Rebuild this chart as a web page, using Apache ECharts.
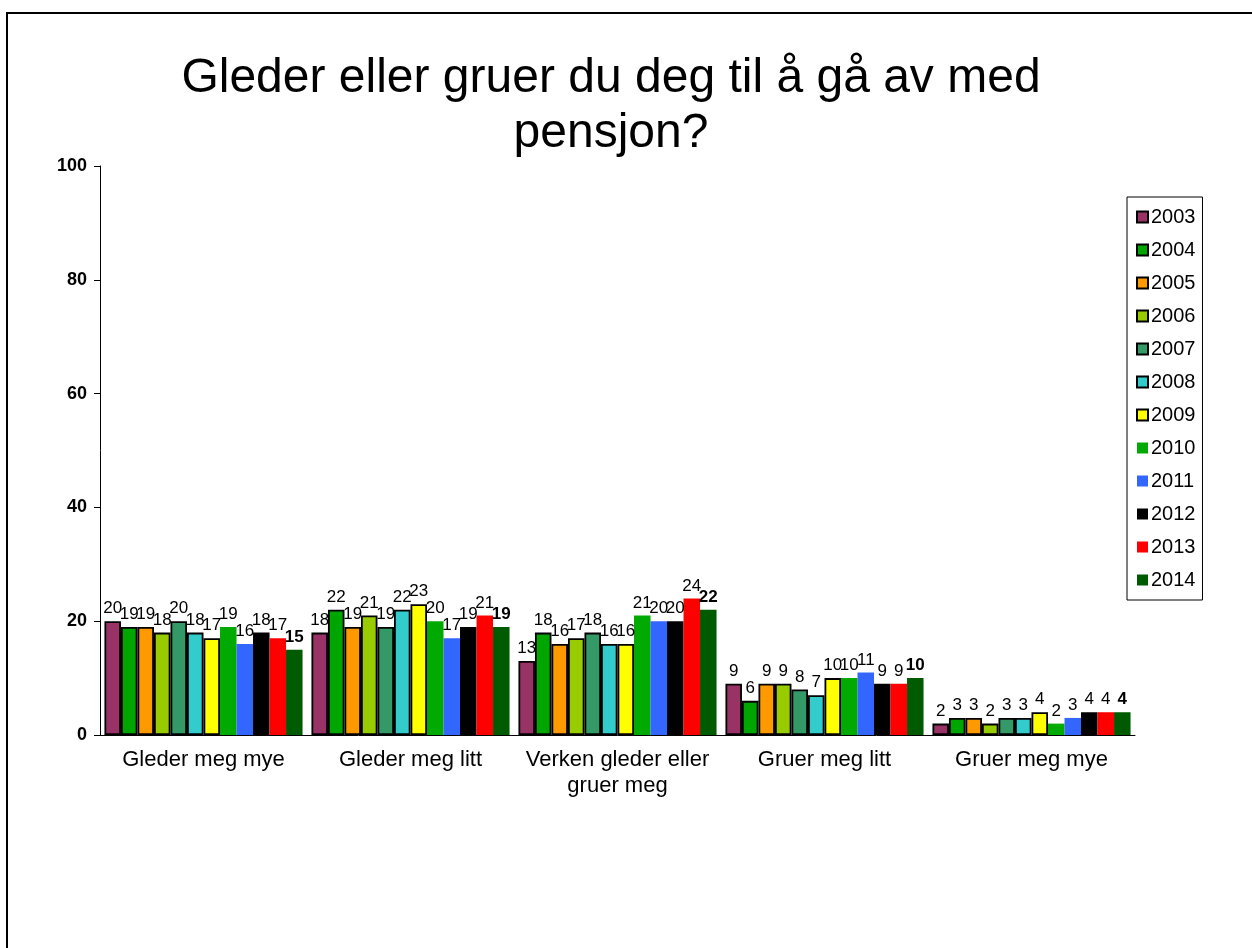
<!DOCTYPE html>
<html>
<head>
<meta charset="utf-8">
<script src="https://cdn.jsdelivr.net/npm/echarts@6/dist/echarts.min.js"></script>
<style>
html,body{margin:0;padding:0;background:#fff;}
#chart{width:1252px;height:948px;}
</style>
</head>
<body>
<div id="chart"></div>
<script>
const categories = ['Gleder meg mye', 'Gleder meg litt', 'Verken gleder eller\ngruer meg', 'Gruer meg litt', 'Gruer meg mye'];
const years = ['2003','2004','2005','2006','2007','2008','2009','2010','2011','2012','2013','2014'];
const v2003 = [20, 18, 13, 9, 2];
const v2004 = [19, 22, 18, 6, 3];
const v2005 = [19, 19, 16, 9, 3];
const v2006 = [18, 21, 17, 9, 2];
const v2007 = [20, 19, 18, 8, 3];
const v2008 = [18, 22, 16, 7, 3];
const v2009 = [17, 23, 16, 10, 4];
const v2010 = [19, 20, 21, 10, 2];
const v2011 = [16, 17, 20, 11, 3];
const v2012 = [18, 19, 20, 9, 4];
const v2013 = [17, 21, 24, 9, 4];
const v2014 = [15, 19, 22, 10, 4];
const yTicks = [0, 20, 40, 60, 80, 100];

const seriesValues = [v2003, v2004, v2005, v2006, v2007, v2008, v2009, v2010, v2011, v2012, v2013, v2014];
const colors = ['#993366','#00A600','#FF9900','#99CC00','#339966','#33CCCC','#FFFF00','#00AA00','#3366FF','#000000','#FF0000','#005A00'];
const bordered = [true,true,true,true,true,true,true,false,false,false,false,false];

const chart = echarts.init(document.getElementById('chart'));
const series = years.map((y, i) => ({
  name: y,
  type: 'bar',
  data: seriesValues[i],
  barGap: '0%',
  barCategoryGap: '4.3%',
  itemStyle: {
    color: colors[i],
    borderColor: bordered[i] ? '#000' : colors[i],
    borderWidth: bordered[i] ? 1.8 : 0
  },
  label: {
    show: true,
    position: 'top',
    distance: 4,
    color: '#000',
    fontFamily: 'Liberation Sans, Arial, sans-serif',
    fontSize: 17,
    fontWeight: i === years.length - 1 ? 'bold' : 'normal'
  }
}));

chart.setOption({
  animation: false,
  backgroundColor: '#fff',
  title: {
    text: 'Gleder eller gruer du deg til å gå av med\npensjon?',
    left: 611,
    textAlign: 'center',
    top: 51,
    padding: 0,
    textStyle: {
      fontFamily: 'Liberation Sans, Arial, sans-serif',
      fontSize: 48,
      fontWeight: 'normal',
      color: '#000',
      lineHeight: 55
    }
  },
  graphic: [{
    type: 'rect',
    shape: { x: 7, y: 13, width: 1400, height: 1100 },
    style: { fill: 'none', stroke: '#000', lineWidth: 2 },
    silent: true
  }],
  legend: {
    orient: 'vertical',
    left: 1127,
    top: 197,
    padding: [10, 7, 10, 9],
    itemGap: 13,
    itemWidth: 11,
    itemHeight: 11,
    icon: 'rect',
    borderColor: '#000',
    borderWidth: 1,
    textStyle: {
      fontFamily: 'Liberation Sans, Arial, sans-serif',
      fontSize: 20,
      color: '#000',
      padding: [0, 0, 0, -2]
    },
    data: years
  },
  grid: { left: 100, right: 117, top: 166, bottom: 213, containLabel: false },
  xAxis: {
    type: 'category',
    data: categories,
    axisLine: { show: true, lineStyle: { color: '#000', width: 1 } },
    axisTick: { show: false },
    axisLabel: {
      color: '#000',
      fontFamily: 'Liberation Sans, Arial, sans-serif',
      fontSize: 22,
      margin: 12,
      lineHeight: 26,
      interval: 0
    }
  },
  yAxis: {
    type: 'value',
    min: yTicks[0],
    max: yTicks[yTicks.length - 1],
    interval: 20,
    splitLine: { show: false },
    axisLine: { show: true, lineStyle: { color: '#000', width: 1 } },
    axisTick: { show: true, length: 6, lineStyle: { color: '#000' } },
    axisLabel: {
      color: '#000',
      fontFamily: 'Liberation Sans, Arial, sans-serif',
      fontSize: 18,
      fontWeight: 'bold',
      margin: 13
    }
  },
  series: series
});
</script>
</body>
</html>
